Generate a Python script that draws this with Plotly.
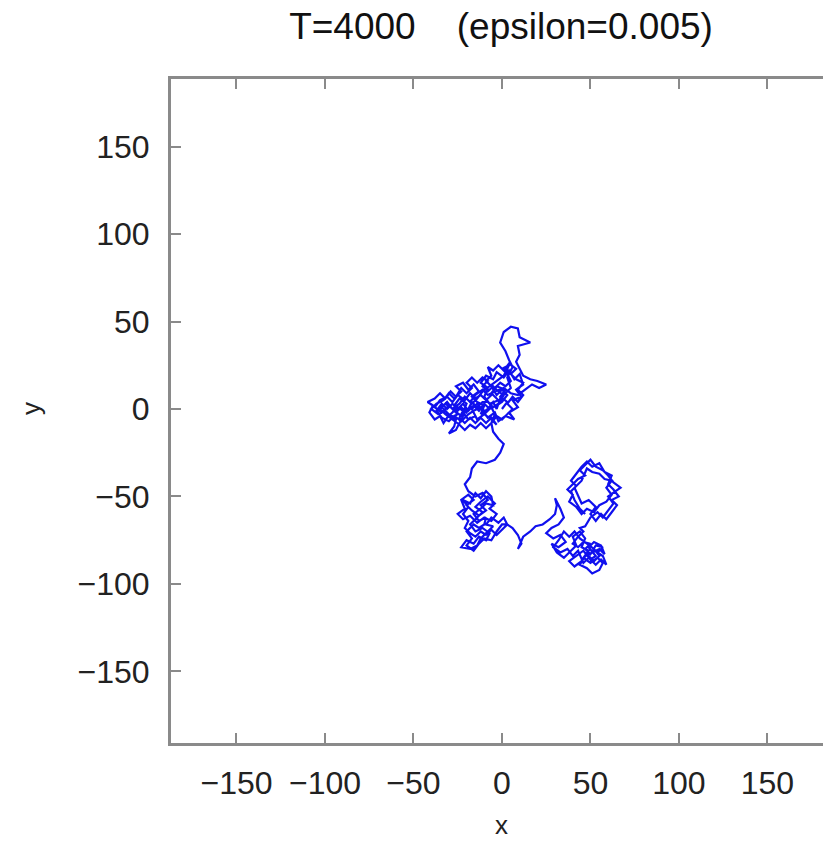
import plotly.graph_objects as go

# Random-walk path (x, y)
cluster_a = [(0,0),(3,4),(-1,7),(2,11),(-3,13),(-6,9),(-2,5),(-7,3),(-10,7),(-8,12),(-12,15),(-9,19),
             (-5,17),(-3,21),(1,18),(4,22),(7,17),(10,20),(12,14),(8,11),(11,7),(6,5),(9,1),(4,-2),(7,-6),
             (2,-4),(-2,-7),(-4,-2),(-8,-5),(-11,-1),(-14,3),(-17,0),(-15,-4),(-19,-6),(-22,-2),(-20,3),
             (-24,6),(-27,2),(-25,-3),(-29,-5),(-32,-1),(-36,-3),(-40,0),(-37,3),(-33,5),(-30,9),(-27,6),
             (-23,10),(-26,13),(-22,15),(-19,11),(-16,14),(-13,10),(-17,7),(-14,4),(-10,2),(-12,-3),(-8,0),
             (-5,4),(-3,0),(-1,6),(5,12),(3,18),(6,24)]
top_loop = [(4,28),(2,33),(-1,38),(1,44),(5,47),(9,46),(10,41),(16,38),(9,36),(10,31),(8,27),(10,23),
            (12,19),(16,17),(20,16),(25,14),(21,12),(17,14),(13,11),(9,8)]
cluster_a2 = [(5,9),(1,12),(-4,10),(-8,8),(-11,11),(-15,8),(-18,4),(-21,7),(-24,3),(-28,0),(-31,4),
              (-34,1),(-30,-3),(-26,-6),(-27,-10),(-30,-14),(-26,-12),(-22,-4),(-20,0),(-23,-4),(-27,-1),
              (-30,2),(-34,-2),(-38,1),(-35,5),(-31,7),(-28,4),(-25,8),(-21,5),(-18,9),(-15,6),(-12,8),
              (-9,5),(-6,8),(-4,12),(-1,15),(2,13),(5,16),(3,20),(0,23),(4,25),(1,19),(-3,16),(-7,13),
              (-11,10),(-14,6),(-18,2),(-14,-6),(-10,-3),(-6,-6),(-3,-9)]
cluster_a3 = [(-6,-5),(-9,-8),(-12,-5),(-15,-8),(-18,-5),(-21,-8),(-24,-5),(-22,-1),(-25,1),(-28,-2),
              (-31,-5),(-33,-8),(-35,-4),(-38,-6),(-41,-2),(-39,2),(-42,4),(-38,6),(-35,9),(-32,6),(-29,10),
              (-26,7),(-23,12),(-20,9),(-17,12),(-20,15),(-17,18),(-14,15),(-11,18),(-8,16),(-11,13),
              (-8,10),(-5,13),(-2,10),(1,8),(-2,3),(-5,1),(-8,4),(-11,4),(-14,1),(-17,4),(-20,-2),(-23,1),
              (-26,-2),(-29,1),(-32,3),(-35,0),(-32,-3),(-28,-6),(-24,-9),(-21,-12),(-18,-9),(-15,-11),
              (-12,-8),(-9,-11),(-6,-8),(-3,-4),(0,-6),(3,-3),(6,0),(3,3),(6,7),(9,4),(12,8),(9,11),
              (12,15),(8,17),(5,20),(8,23),(4,26),(1,22),(-2,25),(-5,22),(-8,24),(-6,19),(-9,16),(-6,13),
              (-3,8),(0,11),(3,8),(0,4),(-3,2),(-7,0),(-10,3),(-13,-1),(-16,2),(-19,-1),(-22,3),(-25,0),
              (-28,3),(-31,0),(-34,3),(-37,-1),(-34,-5),(-30,-7),(-27,-4),(-23,-7),(-19,-3),(-16,-1),
              (-12,1),(-9,-2),(-6,1),(-4,-3),(-6,-8)]
descent = [(-5,-13),(-2,-17),(1,-20),(-1,-25),(-4,-29),(-9,-31),(-14,-30),(-17,-34),(-18,-39),
           (-21,-43),(-19,-47)]
cluster_c = [(-15,-50),(-11,-48),(-8,-52),(-12,-55),(-9,-58),(-13,-61),(-17,-58),(-20,-55),(-16,-52),
             (-19,-49),(-23,-52),(-21,-57),(-25,-60),(-22,-63),(-18,-61),(-14,-65),(-10,-62),(-6,-64),
             (-3,-60),(-7,-57),(-4,-54),(-8,-50),(-12,-53),(-15,-56),(-11,-59),(-14,-62),(-18,-66),
             (-15,-70),(-11,-68),(-7,-71),(-9,-75),(-13,-73),(-16,-77),(-20,-75),(-23,-79),(-18,-80),
             (-14,-78),(-12,-74),(-8,-70),(-5,-67),(-9,-66),(-6,-62),(-2,-65),(1,-62),(3,-66),
             (0,-69),(-3,-72),(-6,-69),(-9,-72),(-12,-70),(-15,-73),(-18,-71),(-21,-68),(-19,-64),
             (-22,-60),(-19,-56),(-22,-52),(-18,-54),(-15,-48),(-12,-51),(-9,-47),(-6,-50),(-5,-55),
             (-9,-54),(-12,-57),(-16,-60),(-13,-64),(-9,-62),(-10,-66),(-13,-68),(-16,-66),(-20,-70),
             (-17,-74),(-20,-78),(-16,-81),(-13,-77),(-10,-74),(-6,-75),(-3,-70),(0,-66),(3,-66)]
strand_d = [(6,-68),(9,-72),(11,-77),(9,-80),(12,-73),(16,-70),(19,-67),(23,-66),(27,-63),(30,-60),
            (31,-55),(30,-51),(33,-57),(35,-62),(32,-66),(28,-68)]
cluster_e = [(25,-71),(29,-74),(33,-72),(36,-76),(32,-79),(28,-77),(31,-82),(35,-85),(39,-81),(42,-78),
             (40,-73),(44,-70),(47,-74),(45,-79),(49,-81),(46,-85),(50,-88),(54,-85),(57,-88),(55,-92),
             (51,-94),(48,-91),(44,-89),(47,-84),(51,-82),(55,-80),(58,-83),(56,-78),(52,-76),(49,-79),
             (53,-84),(50,-86),(46,-81),(42,-84),(38,-87),(41,-90),(45,-87),(48,-83),(52,-87),(55,-84),
             (52,-80),(48,-77),(44,-74),(41,-70),(38,-73),(35,-70),(32,-75),(29,-79),(33,-82),(37,-80),
             (40,-84),(43,-81),(46,-88),(49,-85),(53,-89),(56,-86),(59,-89),(57,-84),(54,-82),(57,-79),
             (53,-78),(50,-83),(47,-80),(50,-77),(46,-76),(43,-79),(40,-77),(43,-73),(46,-70),(44,-68),
             (47,-67)]
cluster_f = [(50,-62),(54,-59),(57,-62),(60,-58),(63,-54),(60,-50),(64,-47),(67,-45),(63,-42),(60,-38),
             (57,-35),(53,-33),(50,-29),(47,-32),(44,-35),(47,-38),(43,-40),(40,-43),(37,-46),(40,-49),
             (38,-53),(42,-56),(45,-60),(48,-57),(52,-59),(55,-55),(59,-53),(62,-49),(59,-45),(62,-41),
             (58,-40),(55,-37),(51,-36),(48,-34),(45,-41),(41,-45),(43,-50),(45,-54),(49,-52),(53,-56),
             (50,-60),(53,-64),(56,-60),(59,-63),(62,-59),(65,-55),(62,-52),(66,-50),(63,-46),(60,-43),
             (62,-38),(58,-36),(55,-31),(51,-33),(48,-30),(45,-33),(42,-37),(39,-41),(42,-44),(39,-47),
             (41,-52),(44,-57),(47,-60)]

segments = [cluster_a, top_loop, cluster_a2, cluster_a3, descent, cluster_c, strand_d, cluster_e, cluster_f]
path = [p for seg in segments for p in seg]
xs = [p[0] for p in path]
ys = [p[1] for p in path]

x_ticks = [-150, -100, -50, 0, 50, 100, 150]
y_ticks = [-150, -100, -50, 0, 50, 100, 150]
title_text = "T=4000\u00a0\u00a0\u00a0\u00a0(epsilon=0.005)"

FONT = "Liberation Sans, Arial, sans-serif"
GREY = "#8a8a8a"

fig = go.Figure(go.Scatter(x=xs, y=ys, mode="lines",
                           line=dict(color="#1010ee", width=2.2), showlegend=False))

fig.update_layout(
    width=823, height=841,
    margin=dict(l=171, r=0, t=79, b=98, autoexpand=False),
    paper_bgcolor="white", plot_bgcolor="white",
    font=dict(family=FONT, size=32, color="#222222"),
    title=dict(text=title_text, x=501/823, xref="container", xanchor="center",
               y=1 - 26/841, yref="container", yanchor="middle",
               font=dict(family=FONT, size=37, color="#111111")),
)
fig.add_annotation(text="x", xref="x", x=0, yref="paper", y=-(825-743)/664, yanchor="middle",
                   showarrow=False, font=dict(size=26, color="#222222"))
fig.add_annotation(text="y", xref="paper", x=-(171-31)/652, xanchor="center", yref="y", y=0,
                   yanchor="middle", textangle=-90, showarrow=False,
                   font=dict(size=26, color="#222222"))

fig.update_xaxes(range=[-187, 181.4], tickvals=x_ticks, ticks="inside", ticklen=10, tickwidth=2,
                 tickcolor=GREY, showline=True, linecolor=GREY, linewidth=3, mirror="ticks",
                 showgrid=False, zeroline=False, ticklabelstandoff=10, automargin=False)
fig.update_yaxes(range=[-190.9, 188.6], tickvals=y_ticks, ticks="inside", ticklen=10, tickwidth=2,
                 tickcolor=GREY, showline=True, linecolor=GREY, linewidth=3, mirror=False,
                 showgrid=False, zeroline=False, ticklabelstandoff=12, automargin=False)

fig.write_html("out.html", config={"displayModeBar": False},
               post_script="document.body.style.margin='0';document.body.style.overflow='hidden';")
